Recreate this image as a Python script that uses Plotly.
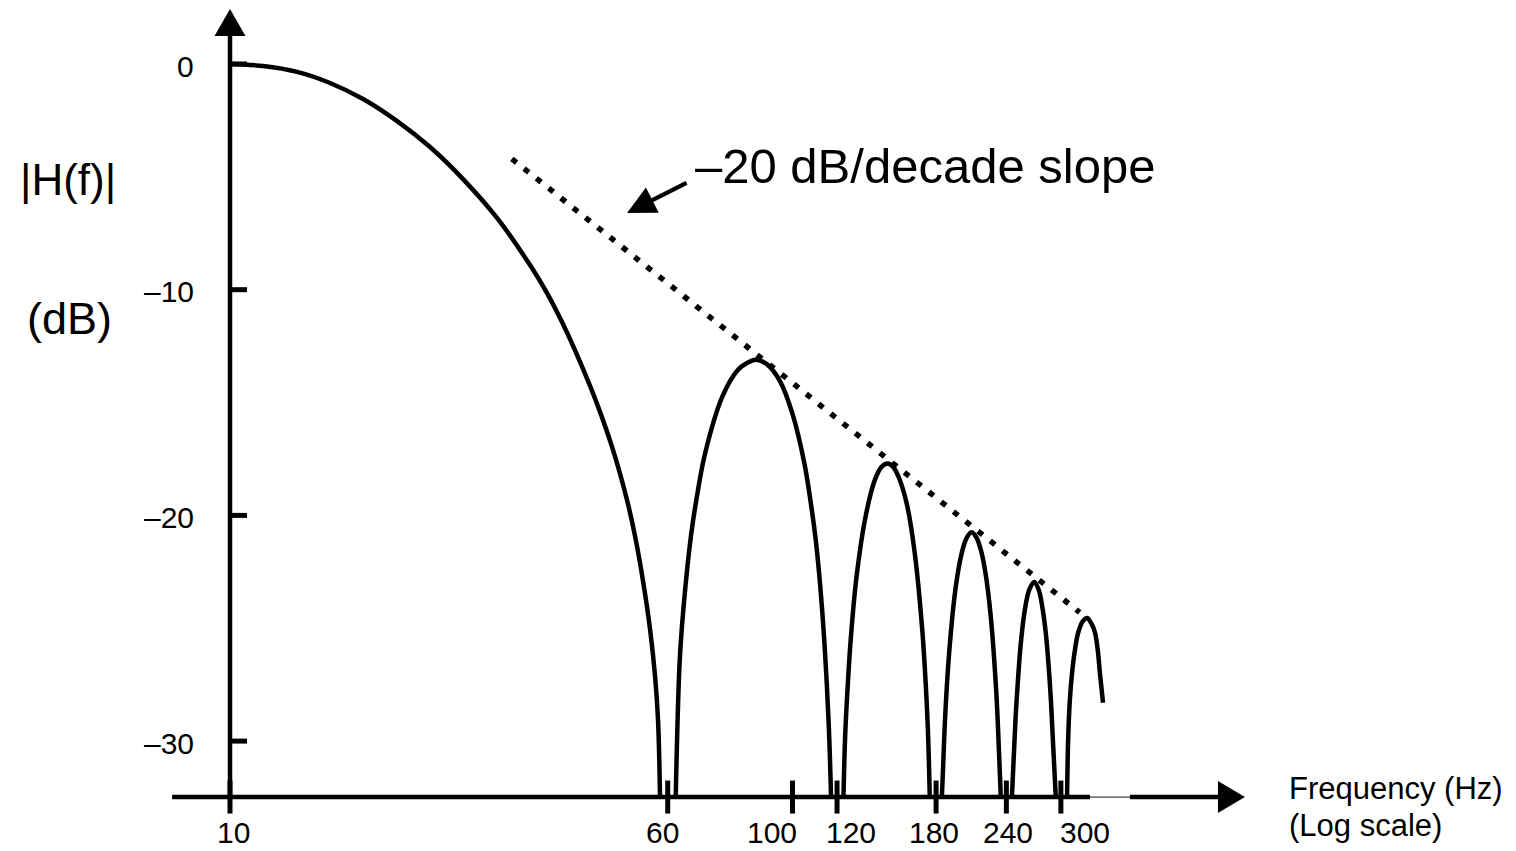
import math
import plotly.graph_objects as go

# ---------------- data ----------------
# main lobe (Hz, dB)
main_f = [10, 11.45, 13.16, 15.06, 17.24, 19.82, 22.68, 25.96, 29.83, 34.15, 36.61,
          39.08, 41.91, 44.93, 47.96, 50.79, 52.48, 54.23, 55.81, 56.97, 57.67, 58.14]
main_db = [0, -0.09, -0.35, -0.84, -1.55, -2.53, -3.68, -5.10, -6.82, -8.91, -10.15,
           -11.52, -13.20, -15.06, -17.10, -19.32, -20.91, -22.90, -25.03, -27.12, -29.07, -32.48]

# side lobes
lobe1_f = [62.0, 63, 64, 66, 68, 70, 75, 80, 83, 86, 90, 95, 100, 105, 108, 110, 112, 114,
           116, 117.1]
lobe1_db = [-32.48, -26.5, -24.1, -20.9, -18.8, -17.2, -14.75, -13.55, -13.25, -13.1, -13.3,
            -14.05, -15.5, -17.7, -19.6, -21.1, -23.1, -25.7, -29.3, -32.48]

lobe2_f = [123.2, 124, 125, 127, 130, 135, 140, 144, 147.6, 151, 155, 160, 165, 170, 172,
           174, 175.4]
lobe2_db = [-32.48, -29.9, -28.1, -25.4, -22.7, -20.0, -18.45, -17.85, -17.7, -17.85, -18.4,
            -19.6, -21.7, -25.0, -26.9, -29.4, -32.48]

lobe3_f = [184.3, 185, 187, 190, 195, 200, 204, 208, 212, 216, 220, 225, 230, 232, 234.6]
lobe3_db = [-32.48, -31.5, -28.7, -26.0, -23.2, -21.65, -21.0, -20.75, -20.95, -21.5, -22.45,
            -24.4, -27.6, -29.5, -32.48]

lobe4_f = [245.5, 248, 250, 255, 260, 264, 269, 274, 278, 282, 285, 288, 290, 293.8]
lobe4_db = [-32.48, -30.1, -28.4, -25.5, -23.9, -23.25, -22.95, -23.3, -24.05, -25.2, -26.5,
            -28.2, -29.7, -32.48]

lobe5_f = [307.7, 309, 311, 314, 318, 322, 328, 334, 340, 345, 349, 352, 356.5]
lobe5_db = [-32.48, -30.0, -28.3, -27.0, -25.9, -25.2, -24.7, -24.55, -24.8, -25.2, -26.0,
            -27.0, -28.3]

# -20 dB/decade asymptote
slope_f = [31.7, 324]
slope_db = [-4.2, -24.3]

# ticks
xtick_vals = [10, 60, 100, 120, 180, 240, 300]
xtick_text = ["10", "60", "100", "120", "180", "240", "300"]
ytick_vals = [0, -10, -20, -30]
ytick_text = ["0", "\u201310", "\u201320", "\u201330"]

# ---------------- layout constants ----------------
W, H = 1516, 851
X_RANGE = [0.59111, 3.28622]     # log10(Hz)
Y_RANGE = [-34.870, 2.8356]      # dB
AXIS_DB = -32.48                 # level of the frequency axis
YAXIS_F = 10                     # frequency where the dB axis stands
XAXIS_START, XAXIS_GAP0, XAXIS_GAP1, XAXIS_END = 7.89, 338, 398, 570.6
YAXIS_TOP = 1.24
xlabel_shift = [3, -5, -21, 14, -2, 2, 24]
FONT = "Liberation Sans, Arial, Helvetica, sans-serif"
BLACK = "#000000"


def px(x):
    return x / W


def py(y):
    return 1 - y / H


fig = go.Figure()

# response curve
for f, d in [(main_f, main_db), (lobe1_f, lobe1_db), (lobe2_f, lobe2_db),
             (lobe3_f, lobe3_db), (lobe4_f, lobe4_db), (lobe5_f, lobe5_db)]:
    fig.add_trace(go.Scatter(x=f, y=d, mode="lines",
                             line=dict(color=BLACK, width=4.5, shape="spline", smoothing=1.0),
                             hoverinfo="skip", showlegend=False))

# dotted slope line
fig.add_trace(go.Scatter(x=slope_f, y=slope_db, mode="lines",
                         line=dict(color=BLACK, width=5.5, dash="6px,9.7px"),
                         hoverinfo="skip", showlegend=False))

# axes lines
fig.add_trace(go.Scatter(x=[XAXIS_START, XAXIS_GAP0], y=[AXIS_DB, AXIS_DB], mode="lines",
                         line=dict(color=BLACK, width=4.5), hoverinfo="skip", showlegend=False))
fig.add_trace(go.Scatter(x=[XAXIS_GAP0, XAXIS_GAP1], y=[AXIS_DB, AXIS_DB], mode="lines",
                         line=dict(color="#444444", width=1.2), hoverinfo="skip", showlegend=False))
fig.add_trace(go.Scatter(x=[XAXIS_GAP1, XAXIS_END], y=[AXIS_DB, AXIS_DB], mode="lines",
                         line=dict(color=BLACK, width=4.5), hoverinfo="skip", showlegend=False))
fig.add_trace(go.Scatter(x=[YAXIS_F, YAXIS_F], y=[AXIS_DB, YAXIS_TOP], mode="lines",
                         line=dict(color=BLACK, width=4.5), hoverinfo="skip", showlegend=False))

shapes = []
# y ticks
for v in ytick_vals:
    shapes.append(dict(type="line", xref="x", yref="y", xsizemode="pixel", xanchor=YAXIS_F,
                       x0=-17, x1=17, y0=v, y1=v, line=dict(color=BLACK, width=5)))
# x ticks
for f in xtick_vals:
    shapes.append(dict(type="line", xref="x", yref="y", ysizemode="pixel", yanchor=AXIS_DB,
                       x0=f, x1=f, y0=-16.5, y1=16.5, line=dict(color=BLACK, width=5)))
# arrow heads of the axes
shapes.append(dict(type="path", xref="x", yref="y", xsizemode="pixel", ysizemode="pixel",
                   xanchor=YAXIS_F, yanchor=YAXIS_TOP, path="M-15.5,0 L15.5,0 L0,27 Z",
                   fillcolor=BLACK, line=dict(width=0)))
shapes.append(dict(type="path", xref="x", yref="y", xsizemode="pixel", ysizemode="pixel",
                   xanchor=XAXIS_END, yanchor=AXIS_DB, path="M0,16 L0,-16 L27,0 Z",
                   fillcolor=BLACK, line=dict(width=0)))

annotations = []
for f, t, s in zip(xtick_vals, xtick_text, xlabel_shift):
    annotations.append(dict(x=math.log10(f), y=AXIS_DB, xref="x", yref="y", text=t,
                            showarrow=False, xshift=s, yshift=-35, xanchor="center",
                            yanchor="middle", font=dict(size=30, color=BLACK, family=FONT)))
for v, t in zip(ytick_vals, ytick_text):
    annotations.append(dict(x=math.log10(YAXIS_F), y=v, xref="x", yref="y", text=t,
                            showarrow=False, xshift=-34, yshift=-2, xanchor="right",
                            yanchor="middle", font=dict(size=30, color=BLACK, family=FONT)))

# arrow pointing at the slope line
annotations.append(dict(x=math.log10(50.8), y=-6.6, ax=math.log10(65.2), ay=-5.23,
                        xref="x", yref="y", axref="x", ayref="y", text="", showarrow=True,
                        arrowhead=2, arrowsize=1.35, arrowwidth=4.2, arrowcolor=BLACK))

annotations.append(dict(x=px(693), y=py(166), xref="paper", yref="paper",
                        text="\u201320 dB/decade slope", showarrow=False, xanchor="left",
                        yanchor="middle", font=dict(size=49, color=BLACK, family=FONT)))
annotations.append(dict(x=px(18), y=py(180), xref="paper", yref="paper", text="|H(f)|",
                        showarrow=False, xanchor="left", yanchor="middle",
                        font=dict(size=44, color=BLACK, family=FONT)))
annotations.append(dict(x=px(25), y=py(318), xref="paper", yref="paper", text="(dB)",
                        showarrow=False, xanchor="left", yanchor="middle",
                        font=dict(size=45, color=BLACK, family=FONT)))
annotations.append(dict(x=px(1287), y=py(788), xref="paper", yref="paper",
                        text="Frequency (Hz)", showarrow=False, xanchor="left",
                        yanchor="middle", font=dict(size=31, color=BLACK, family=FONT)))
annotations.append(dict(x=px(1287), y=py(825), xref="paper", yref="paper",
                        text="(Log scale)", showarrow=False, xanchor="left",
                        yanchor="middle", font=dict(size=31, color=BLACK, family=FONT)))

fig.update_layout(
    width=W, height=H,
    margin=dict(l=0, r=0, t=0, b=0),
    paper_bgcolor="white", plot_bgcolor="white",
    xaxis=dict(type="log", range=X_RANGE, visible=False, fixedrange=True),
    yaxis=dict(range=Y_RANGE, visible=False, fixedrange=True),
    shapes=shapes, annotations=annotations,
    showlegend=False,
)

# remove the browser's default 8px page margin so the figure fills the window
fig.write_html("out.html",
               config={"displayModeBar": False, "staticPlot": True},
               post_script="document.body.style.margin='0px';"
                           "document.body.style.overflow='hidden';")
